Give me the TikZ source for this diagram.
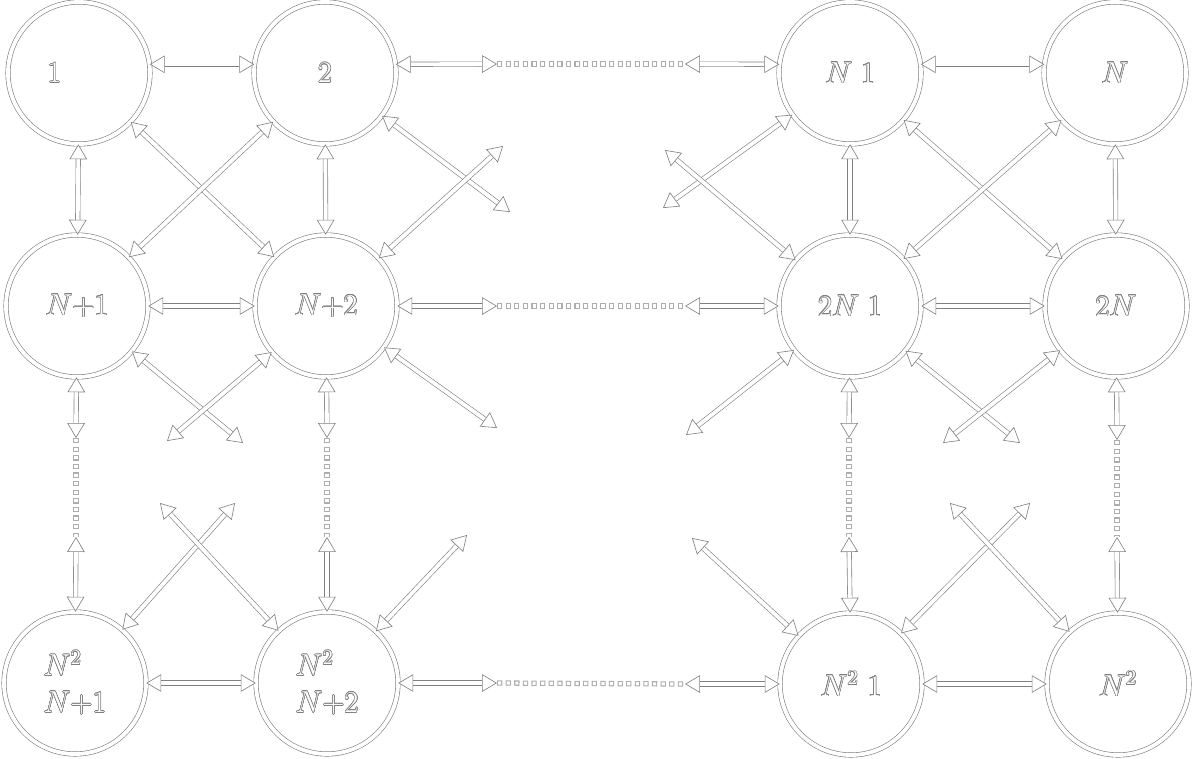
\documentclass[tikz,border=0pt]{standalone}
\usepackage{contour}
\usetikzlibrary{arrows.meta}
\contourlength{0.35pt}
\contournumber{16}
\newcommand{\olab}[1]{\contour{black!50}{#1}}
\tikzset{
  tipA/.tip={Triangle[fill=white,length=8.5pt,width=10pt,line width=0.35pt]},
  st/.style={circle, draw=black!50, line width=0.35pt, double=white, double distance=2.2pt,
    minimum size=2.84cm, inner sep=0pt, text=white, font=\fontsize{17}{21}\selectfont},
  dbl/.style={draw=black!50, line width=0.35pt, double=white, double distance=2.2pt},
  link/.style={dbl, tipA-tipA},
  dots/.style={draw=black!32, line width=3pt, dash pattern=on 3pt off 1.9pt,
    postaction={draw=white, line width=1.8pt, dash pattern=on 1.8pt off 3.1pt, dash phase=4.3pt}},
}
\begin{document}
\begin{tikzpicture}[x=0.02cm, y=-0.02cm]
\fill[white] (0,0) rectangle (1195,758);
\useasboundingbox (0,0) rectangle (1195,758);
% nodes
\node[st] (n1)   at (79,73)   {\olab{1}\kern28pt\relax};
\node[st] (n2)   at (325,73)  {\olab{2}};
\node[st] (nNm)  at (850,73)  {\olab{$N$ 1}};
\node[st] (nN)   at (1115,73) {\olab{$N$}};
\node[st] (nN1)  at (77,306)  {\olab{$N{+}1$}};
\node[st] (nN2)  at (326,306) {\olab{$N{+}2$}};
\node[st] (n2Nm) at (850,306) {\olab{2$N$ 1}};
\node[st] (n2N)  at (1116,306){\olab{2$N$}};
\node[st, align=left] (nA) at (75,683)  {\olab{$N^2$}\\\olab{$N{+}1$}};
\node[st, align=left] (nB) at (327,683) {\olab{$N^2$}\\\olab{$N{+}2$}};
\node[st] (nC)   at (851,684) {\olab{$N^2$ 1}};
\node[st] (nD)   at (1118,684){\olab{$N^2$}};
% free ends
\coordinate (h1a) at (497,64);  \coordinate (h1b) at (685,64);
\coordinate (h2a) at (497,306); \coordinate (h2b) at (685,306);
\coordinate (h3a) at (497,683); \coordinate (h3b) at (685,684);
\coordinate (v1a) at (76,438);  \coordinate (v1b) at (76,537);
\coordinate (v2a) at (327,438); \coordinate (v2b) at (327,537);
\coordinate (v3a) at (849,438); \coordinate (v3b) at (849,537);
\coordinate (v4a) at (1117,440);\coordinate (v4b) at (1117,537);
\coordinate (d1) at (510,212);  \coordinate (d2) at (503,146);
\coordinate (d3) at (663,208);  \coordinate (d4) at (665,150);
\coordinate (d5) at (243,443);  \coordinate (d6) at (167,441);
\coordinate (d7) at (497,428);  \coordinate (d8) at (686,435);
\coordinate (d9) at (1020,443); \coordinate (d10) at (943,443);
\coordinate (d11) at (235,503); \coordinate (d12) at (160,503);
\coordinate (d13) at (467,535); \coordinate (d14) at (692,538);
\coordinate (d15) at (1030,503);\coordinate (d16) at (950,503);
% row 1
\draw[link] (n1.7) -- (n2.173);
\draw[link] (n2.7) -- (h1a);
\draw[dots] (h1a) -- (h1b);
\draw[link] (h1b) -- (nNm.173);
\draw[link] (nNm.7) -- (nN.173);
% row 2
\draw[link] (nN1) -- (nN2);
\draw[link] (nN2) -- (h2a);
\draw[dots] (h2a) -- (h2b);
\draw[link] (h2b) -- (n2Nm);
\draw[link] (n2Nm) -- (n2N);
% row 3
\draw[link] (nA) -- (nB);
\draw[link] (nB) -- (h3a);
\draw[dots] (h3a) -- (h3b);
\draw[link] (h3b) -- (nC);
\draw[link] (nC) -- (nD);
% verticals
\draw[link] (n1) -- (nN1);
\draw[link] (n2) -- (nN2);
\draw[link] (nNm) -- (n2Nm);
\draw[link] (nN) -- (n2N);
\draw[link] (nN1) -- (v1a); \draw[dots] (v1a) -- (v1b); \draw[link] (v1b) -- (nA);
\draw[link] (nN2) -- (v2a); \draw[dots] (v2a) -- (v2b); \draw[link] (v2b) -- (nB);
\draw[link] (n2Nm) -- (v3a); \draw[dots] (v3a) -- (v3b); \draw[link] (v3b) -- (nC);
\draw[link] (n2N) -- (v4a); \draw[dots] (v4a) -- (v4b); \draw[link] (v4b) -- (nD);
% diagonals
\draw[link] (n1) -- (nN2);
\draw[link] (n2) -- (nN1);
\draw[link] (n2) -- (d1);
\draw[link] (nN2) -- (d2);
\draw[link] (nNm) -- (d3);
\draw[link] (n2Nm) -- (d4);
\draw[link] (nNm) -- (n2N);
\draw[link] (nN) -- (n2Nm);
\draw[link] (nN1) -- (d5);
\draw[link] (nN2) -- (d6);
\draw[link] (nN2) -- (d7);
\draw[link] (n2Nm) -- (d8);
\draw[link] (n2Nm) -- (d9);
\draw[link] (n2N) -- (d10);
\draw[link] (nA) -- (d11);
\draw[link] (nB) -- (d12);
\draw[link] (nB) -- (d13);
\draw[link] (nC) -- (d14);
\draw[link] (nC) -- (d15);
\draw[link] (nD) -- (d16);
\end{tikzpicture}
\end{document}
